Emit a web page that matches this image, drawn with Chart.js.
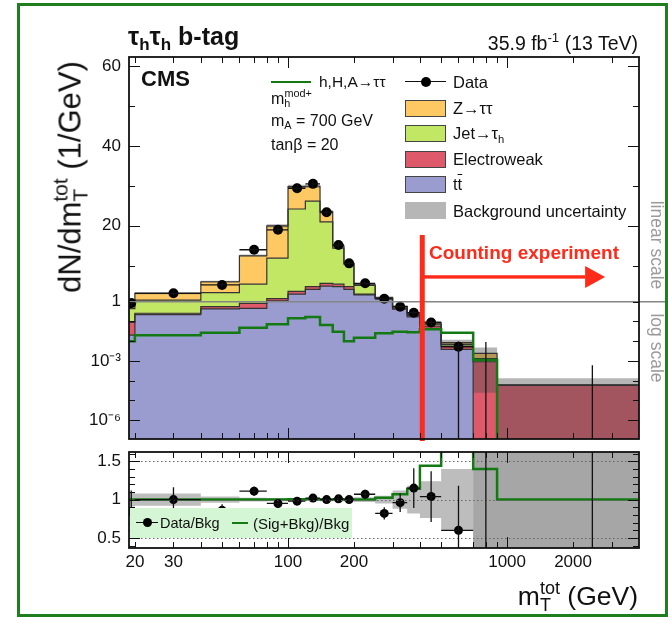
<!DOCTYPE html>
<html>
<head>
<meta charset="utf-8">
<title>tau_h tau_h b-tag, mT tot</title>
<script src="https://cdn.jsdelivr.net/npm/chart.js@4/dist/chart.umd.min.js"></script>
<style>
  html, body { margin: 0; background: #fff; }
  #wrap { position: relative; width: 668px; height: 618px; overflow: hidden; font-family: "Liberation Sans", Arial, sans-serif; color: #111; }
  canvas { position: absolute; left: 0; }
  .t { position: absolute; white-space: nowrap; line-height: 1; }
  sub, sup { font-size: 0.68em; line-height: 0; }
  sub { vertical-align: -0.32em; }
  sup { vertical-align: 0.62em; }
  .sw { position: absolute; left: 405px; width: 41px; height: 17px; box-sizing: border-box; border: 1px solid #444; }
  .lg { position: absolute; left: 453px; font-size: 16.5px; line-height: 1; white-space: nowrap; }
  #border { position: absolute; left: 17px; top: 3px; width: 651px; height: 614px; border: 3px solid #1f7f1f; box-sizing: border-box; }
</style>
</head>
<body>
<div id="wrap">
  <canvas id="topPanel" width="668" height="445" style="top:0"></canvas>
  <canvas id="ratioPanel" width="668" height="173" style="top:445px"></canvas>

  <div class="t" style="left:128px;top:24px;font-size:25px;font-weight:bold">τ<sub>h</sub>τ<sub>h</sub> b-tag</div>
  <div class="t" style="right:30px;top:34px;font-size:19.5px">35.9 fb<sup>-1</sup> (13 TeV)</div>
  <div class="t" style="left:70px;top:177px;font-size:31px;transform:translate(-50%,-50%) rotate(-90deg)">dN/dm<sub>T</sub><sup style="margin-left:-13px">tot</sup> (1/GeV)</div>
  <div class="t" style="right:30px;top:583px;font-size:26.5px">m<sub>T</sub><sup style="margin-left:-11px">tot</sup> (GeV)</div>
  <div class="t" style="left:141px;top:68px;font-size:22px;font-weight:bold">CMS</div>

  <!-- model legend, left column -->
  <div style="position:absolute;left:271px;top:81px;width:40px;border-top:2.6px solid #137a13"></div>
  <div class="t" style="left:319px;top:74px;font-size:15.5px">h,H,A→ττ</div>
  <div class="t" style="left:271px;top:91px;font-size:16px">m<sub>h</sub><sup style="margin-left:-6px">mod+</sup></div>
  <div class="t" style="left:271px;top:113px;font-size:16px">m<sub>A</sub> = 700 GeV</div>
  <div class="t" style="left:271px;top:137px;font-size:16px">tanβ = 20</div>

  <!-- background legend, right column -->
  <div style="position:absolute;left:405px;top:81px;width:41px;border-top:1.3px solid #111"></div>
  <div style="position:absolute;left:421px;top:77px;width:10px;height:10px;border-radius:50%;background:#000"></div>
  <div class="lg" style="top:74px">Data</div>
  <div class="sw" style="top:100px;background:#fec962"></div>
  <div class="lg" style="top:100px">Z→ττ</div>
  <div class="sw" style="top:125px;background:#c2e765"></div>
  <div class="lg" style="top:125px">Jet→τ<sub>h</sub></div>
  <div class="sw" style="top:151px;background:#de5a6a"></div>
  <div class="lg" style="top:151px">Electroweak</div>
  <div class="sw" style="top:176px;background:#9a9ccf"></div>
  <div class="lg" style="top:176px">t<span style="text-decoration:overline">t</span></div>
  <div class="sw" style="top:202px;background:#b6b6b6;border:none"></div>
  <div class="lg" style="top:203px">Background uncertainty</div>

  <div class="t" style="left:429px;top:243px;font-size:19px;font-weight:bold;color:#ff2b1a">Counting experiment</div>
  <div class="t" style="left:656px;top:245px;font-size:17.5px;color:#9a9a9a;transform:translate(-50%,-50%) rotate(90deg)">linear scale</div>
  <div class="t" style="left:656px;top:348px;font-size:17.5px;color:#9a9a9a;transform:translate(-50%,-50%) rotate(90deg)">log scale</div>

  <!-- ratio legend -->
  <div style="position:absolute;left:130px;top:508px;width:222px;height:30px;background:#d4f6d4"></div>
  <div style="position:absolute;left:136px;top:522px;width:22px;border-top:1.3px solid #111"></div>
  <div style="position:absolute;left:143px;top:518px;width:9px;height:9px;border-radius:50%;background:#000"></div>
  <div class="t" style="left:160px;top:516px;font-size:14.5px">Data/Bkg</div>
  <div style="position:absolute;left:232px;top:522px;width:16px;border-top:2.6px solid #137a13"></div>
  <div class="t" style="left:253px;top:516px;font-size:15px">(Sig+Bkg)/Bkg</div>

  <div id="border"></div>
</div>

<script>
// binning in GeV (one edge more than bins), data drawn at the bin centres
const binEdges = [18.5, 20, 40, 60, 80, 100, 120, 140, 160, 180, 200, 250, 300, 350, 400, 500, 700, 900, 4000];
const dataX = [19.25, 30, 50, 70, 90, 110, 130, 150, 170, 190, 225, 275, 325, 375, 450, 600, 800, 2450];

// events / GeV
const dataY = [0.85, 3.1, 5.2, 14.0, 19.0, 29.4, 30.5, 23.4, 15.2, 10.6, 5.6, 1.72, 0.56, 0.277, 0.088, 0.0052, 0, 0];
const dataErrUp = [0.27, 0.5, 0.5, 0.75, 0.8, 1.2, 1.05, 0.94, 0.75, 0.53, 0.31, 0.17, 0.07, 0.062, 0.027, 0.0045, 0.009, 0.0006];
const dataErrDn = [0.27, 0.5, 0.5, 0.75, 0.8, 1.2, 1.05, 0.94, 0.75, 0.53, 0.31, 0.17, 0.07, 0.062, 0.027, 0.0052, 0, 0];

const ttbar = [0.02, 0.22, 0.43, 0.46, 1.2, 2.9, 4.1, 4.9, 4.8, 4.1, 2.7, 1.75, 0.42, 0.17, 0.044, 0.0038, 0, 0];
const electroweak = [0.07, 0.04, 0.13, 0.37, 0.55, 0.7, 0.7, 0.7, 0.6, 0.7, 0.2, 0.1, 0.05, 0.03, 0.014, 0.0017, 0.0009, 0.000059];
const jetFakes = [0.36, 1.14, 2.69, 4.57, 10.15, 20.6, 21.4, 15.4, 9.0, 5.6, 2.2, 0.2, 0.09, 0.025, 0.014, 0.0013, 0.0004, 0];
const ztautau = [0.55, 1.7, 2.75, 7.1, 8.1, 5.6, 3.7, 2.5, 0.6, 0.2, 0.15, 0.05, 0.02, 0.015, 0.013, 0.0017, 0.0011, 0];
const signal = [0.01, 0.02, 0.027, 0.048, 0.071, 0.143, 0.167, 0.066, 0.030, 0.010, 0.015, 0.025, 0.030, 0.028, 0.040, 0.027, 0.0011, 0];
// relative background uncertainty
const bkgUnc = [0.09, 0.08, 0.04, 0.025, 0.02, 0.015, 0.015, 0.02, 0.02, 0.025, 0.03, 0.05, 0.12, 0.18, 0.24, 0.4, 0.99, 1.2];

// lower panel
const ratio = [0.85, 1.0, 0.86, 1.11, 0.95, 0.98, 1.02, 1.0, 1.01, 1.0, 1.07, 0.82, 0.96, 1.15, 1.04, 0.6, 0, 0];
const ratioErrUp = [0.27, 0.16, 0.08, 0.06, 0.04, 0.04, 0.035, 0.04, 0.05, 0.05, 0.06, 0.08, 0.12, 0.26, 0.33, 0.58, 9, 9];
const ratioErrDn = [0.27, 0.16, 0.08, 0.06, 0.04, 0.04, 0.035, 0.04, 0.05, 0.05, 0.06, 0.08, 0.12, 0.26, 0.33, 0.6, 0, 0];
const sigRatio = [1, 1, 1, 1, 1, 1.005, 1.005, 1, 1, 1, 1, 1.025, 1.07, 1.14, 1.44, 2.5, 1.4, 1];

// axes
const xMin = 18.8, xMax = 4000;
const xTicks = [20, 30, 40, 50, 60, 70, 80, 90, 100, 200, 300, 400, 500, 600, 700, 800, 900, 1000, 2000, 3000];
const xMajor = [100, 1000];
const xLabels = [20, 30, 100, 200, 1000, 2000];
const yTicksTop = [1e-6, 1e-5, 1e-4, 1e-3, 1e-2, 1e-1, 1, 10, 20, 30, 40, 50, 60];
const yMajorTop = [1e-6, 1e-3, 20, 40, 60];
const yLabelVals = [60, 40, 20, 1, 1e-3, 1e-6];
const yLabelText = ['60', '40', '20', '1', '10⁻³', '10⁻⁶'];
const ratioTicks = [0.4, 0.5, 0.6, 0.7, 0.8, 0.9, 1, 1.1, 1.2, 1.3, 1.4, 1.5, 1.6];
const ratioMajor = [0.5, 1, 1.5];
const ratioGrid = [0.5, 1, 1.5];
const ratioMin = 0.37, ratioMax = 1.62;

// "counting experiment" marker
const countX = 410, countTop = 17.7, arrowY = 7.2, arrowBase = 2270, arrowTip = 2800;

const RED = '#ff2b1a';
const GREEN = '#137a13';

Chart.defaults.font.family = '"Liberation Sans", Arial, sans-serif';
Chart.defaults.font.size = 17;
Chart.defaults.color = '#111';

// y axis that is linear above 1 and logarithmic below it
class LinLogScale extends Chart.Scale {
    static id = 'linlog';
    static defaults = {};
    determineDataLimits() {
        this.min = this.options.min;
        this.max = this.options.max;
    }
    buildTicks() {
        return yTicksTop.map(v => ({ value: v }));
    }
    getLabelForValue(value) {
        return String(value);
    }
    decimalFor(value) {
        const f = this.options.logFraction, s = this.options.switchAt;
        if (value >= s) return f + (1 - f) * (value - s) / (this.max - s);
        if (!(value > 0)) return -0.1;
        const lmin = Math.log10(this.min);
        return f * (Math.log10(value) - lmin) / (Math.log10(s) - lmin);
    }
    getPixelForValue(value) {
        return this.getPixelForDecimal(this.decimalFor(value));
    }
    getValueForPixel(pixel) {
        const d = this.getDecimalForPixel(pixel), f = this.options.logFraction, s = this.options.switchAt;
        if (d >= f) return s + (d - f) / (1 - f) * (this.max - s);
        const lmin = Math.log10(this.min);
        return Math.pow(10, lmin + d / f * (Math.log10(s) - lmin));
    }
}
Chart.register(LinLogScale);

function addUp(a, b) {
    return a.map((v, i) => v + b[i]);
}
const ewTop = addUp(ttbar, electroweak);
const jetTop = addUp(ewTop, jetFakes);
const bkgTotal = addUp(jetTop, ztautau);
const bandHi = bkgTotal.map((v, i) => v * (1 + bkgUnc[i]));
const bandLo = bkgTotal.map((v, i) => Math.max(v * (1 - bkgUnc[i]), 0));

// stepped line through the lower bin edges, last value repeated at the upper edge
function histo(values, style) {
    return Object.assign({
        type: 'line',
        data: binEdges.map((e, i) => ({ x: e, y: values[Math.min(i, values.length - 1)] })),
        stepped: true,
        pointRadius: 0,
        borderWidth: 1.2,
        borderColor: '#333',
        fill: false,
    }, style);
}

// fixed axis sizes so both panels line up exactly
function fixWidth(s) {
    s.width = 60;
    s.paddingTop = 0;
    s.paddingBottom = 0;
}

function xScale(showLabels) {
    return {
        type: 'logarithmic',
        min: xMin,
        max: xMax,
        afterBuildTicks: s => { s.ticks = xTicks.map(v => ({ value: v })); },
        afterFit: s => {
            s.height = showLabels ? 30 : 0;
            s.paddingLeft = 0;
            s.paddingRight = 0;
        },
        grid: { display: false, drawTicks: false },
        border: { display: false },
        ticks: {
            display: showLabels,
            autoSkip: false,
            maxRotation: 0,
            padding: 4,
            callback: v => xLabels.includes(v) ? String(v) : '',
        },
    };
}

function drawErrorBars(chart, ys, up, dn) {
    const { ctx, chartArea: a, scales: { x, y } } = chart;
    ctx.save();
    ctx.beginPath();
    ctx.rect(a.left, a.top, a.right - a.left, a.bottom - a.top);
    ctx.clip();
    ctx.strokeStyle = '#111';
    ctx.lineWidth = 1.3;
    ctx.beginPath();
    dataX.forEach((xv, i) => {
        const px = x.getPixelForValue(xv), py = y.getPixelForValue(ys[i]);
        ctx.moveTo(x.getPixelForValue(binEdges[i]), py);
        ctx.lineTo(x.getPixelForValue(binEdges[i + 1]), py);
        ctx.moveTo(px, y.getPixelForValue(ys[i] + up[i]));
        ctx.lineTo(px, y.getPixelForValue(ys[i] - dn[i]));
    });
    ctx.stroke();
    ctx.restore();
}

// ROOT style frame with inward ticks on all four sides
function framePlugin(yMajor, extra) {
    return {
        id: 'frame',
        afterDatasetsDraw(chart) {
            const { ctx, chartArea: a, scales: { x, y } } = chart;
            if (extra) extra(chart);
            ctx.save();
            ctx.strokeStyle = '#111';
            ctx.lineWidth = 1;
            ctx.beginPath();
            x.ticks.forEach(t => {
                const px = Math.round(x.getPixelForValue(t.value)) + 0.5;
                const len = xMajor.includes(t.value) ? 11 : 6;
                ctx.moveTo(px, a.bottom); ctx.lineTo(px, a.bottom - len);
                ctx.moveTo(px, a.top); ctx.lineTo(px, a.top + len);
            });
            y.ticks.forEach(t => {
                const py = Math.round(y.getPixelForValue(t.value)) + 0.5;
                const len = yMajor.includes(t.value) ? 11 : 6;
                ctx.moveTo(a.left, py); ctx.lineTo(a.left + len, py);
                ctx.moveTo(a.right, py); ctx.lineTo(a.right - len, py);
            });
            ctx.stroke();
            ctx.lineWidth = 1.8;
            ctx.strokeRect(a.left, a.top, a.right - a.left, a.bottom - a.top);
            ctx.restore();
        }
    };
}

function topExtras(chart) {
    const { ctx, chartArea: a, scales: { x, y }, width } = chart;
    drawErrorBars(chart, dataY, dataErrUp, dataErrDn);
    ctx.save();
    // boundary between the linear and the log part
    const y1 = y.getPixelForValue(1);
    ctx.strokeStyle = '#858585';
    ctx.lineWidth = 1.6;
    ctx.beginPath();
    ctx.moveTo(a.left, y1);
    ctx.lineTo(width, y1);
    ctx.stroke();
    // counting experiment line and arrow
    const cx = x.getPixelForValue(countX);
    const ay = y.getPixelForValue(arrowY);
    const base = x.getPixelForValue(arrowBase), tip = x.getPixelForValue(arrowTip);
    ctx.fillStyle = RED;
    ctx.fillRect(cx - 2.5, y.getPixelForValue(countTop), 5, a.bottom + 2 - y.getPixelForValue(countTop));
    ctx.fillRect(cx, ay - 1.7, base - cx, 3.4);
    ctx.beginPath();
    ctx.moveTo(tip, ay);
    ctx.lineTo(base, ay - 11);
    ctx.lineTo(base, ay + 11);
    ctx.closePath();
    ctx.fill();
    ctx.restore();
}

function ratioExtras(chart) {
    const { ctx, chartArea: a, scales: { y } } = chart;
    ctx.save();
    ctx.strokeStyle = '#666';
    ctx.lineWidth = 1;
    ctx.setLineDash([1.5, 2.5]);
    ctx.beginPath();
    ratioGrid.forEach(v => {
        const py = Math.round(y.getPixelForValue(v)) + 0.5;
        ctx.moveTo(a.left, py);
        ctx.lineTo(a.right, py);
    });
    ctx.stroke();
    ctx.restore();
    drawErrorBars(chart, ratio, ratioErrUp, ratioErrDn);
}

const commonOptions = {
    responsive: false,
    animation: false,
    events: [],
    plugins: {
        legend: { display: false },
        tooltip: { enabled: false },
        filler: { drawTime: 'beforeDatasetsDraw' },
    },
};

new Chart(document.getElementById('topPanel'), {
    type: 'line',
    data: {
        datasets: [
            {
                type: 'scatter',
                data: dataX.map((x, i) => ({ x, y: dataY[i] })),
                pointRadius: 5,
                pointBorderWidth: 0,
                pointBackgroundColor: '#000',
            },
            histo(signal, { borderColor: GREEN, borderWidth: 2.5 }),
            histo(bandHi, { borderColor: 'transparent', borderWidth: 0, fill: '+1', backgroundColor: 'rgba(78,78,78,0.41)' }),
            histo(bandLo, { borderColor: 'transparent', borderWidth: 0 }),
            histo(bkgTotal, { fill: '+1', backgroundColor: '#fec962' }),
            histo(jetTop, { fill: '+1', backgroundColor: '#c2e765' }),
            histo(ewTop, { fill: '+1', backgroundColor: '#de5a6a' }),
            histo(ttbar, { fill: 'start', backgroundColor: '#9a9ccf' }),
        ]
    },
    options: Object.assign({}, commonOptions, {
        layout: { autoPadding: false, padding: { left: 69, right: 29, top: 57, bottom: 6 } },
        scales: {
            x: xScale(false),
            y: {
                type: 'linlog',
                position: 'left',
                min: 1.09e-7,
                max: 62.25,
                switchAt: 1,
                logFraction: 0.3594,
                afterFit: fixWidth,
                grid: { display: false, drawTicks: false },
                border: { display: false },
                ticks: {
                    autoSkip: false,
                    padding: 8,
                    callback: v => {
                        const k = yLabelVals.indexOf(v);
                        return k < 0 ? '' : yLabelText[k];
                    },
                },
            },
        },
    }),
    plugins: [framePlugin(yMajorTop, topExtras)],
});

// bins whose uncertainty covers the whole ratio panel get a second, darker layer
const fullBins = bkgUnc.map((u, i) => (1 - u < ratioMin && 1 + u > ratioMax) ? i : -1).filter(i => i >= 0);
function fullBand(sign) {
    const pts = fullBins.map(i => ({ x: binEdges[i], y: 1 + sign * 3 }));
    pts.push({ x: binEdges[fullBins[fullBins.length - 1] + 1], y: 1 + sign * 3 });
    return pts;
}

new Chart(document.getElementById('ratioPanel'), {
    type: 'line',
    data: {
        datasets: [
            {
                type: 'scatter',
                data: dataX.map((x, i) => ({ x, y: ratio[i] })),
                pointRadius: 4.5,
                pointBorderWidth: 0,
                pointBackgroundColor: '#000',
            },
            histo(sigRatio, { borderColor: GREEN, borderWidth: 2.5 }),
            { type: 'line', data: fullBand(1), stepped: true, pointRadius: 0, borderWidth: 0, borderColor: 'transparent', fill: '+1', backgroundColor: '#a6a6a6' },
            { type: 'line', data: fullBand(-1), stepped: true, pointRadius: 0, borderWidth: 0, borderColor: 'transparent' },
            histo(bkgUnc.map(u => 1 + u), { borderColor: 'transparent', borderWidth: 0, fill: '+1', backgroundColor: '#bdbdbd' }),
            histo(bkgUnc.map(u => 1 - u), { borderColor: 'transparent', borderWidth: 0 }),
        ]
    },
    options: Object.assign({}, commonOptions, {
        layout: { autoPadding: false, padding: { left: 69, right: 29, top: 7, bottom: 40 } },
        scales: {
            x: xScale(true),
            y: {
                type: 'linear',
                position: 'left',
                min: ratioMin,
                max: ratioMax,
                afterBuildTicks: s => { s.ticks = ratioTicks.map(v => ({ value: v })); },
                afterFit: fixWidth,
                grid: { display: false, drawTicks: false },
                border: { display: false },
                ticks: {
                    autoSkip: false,
                    padding: 8,
                    callback: v => ratioMajor.includes(v) ? String(v) : '',
                },
            },
        },
    }),
    plugins: [framePlugin(ratioMajor, ratioExtras)],
});
</script>
</body>
</html>
